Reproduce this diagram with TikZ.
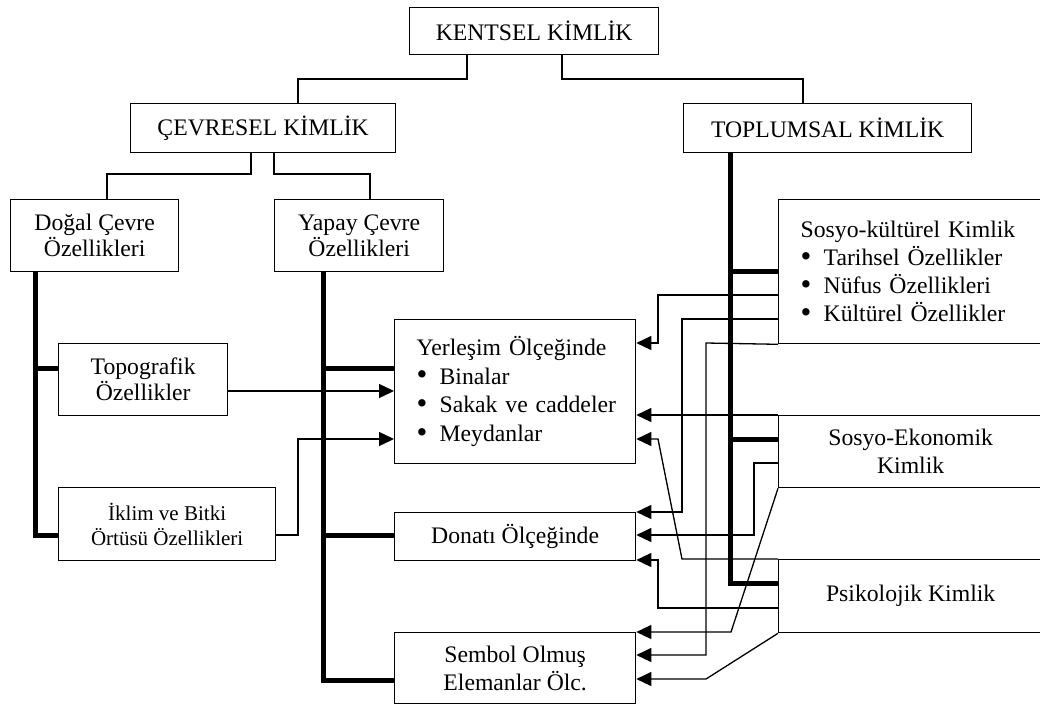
\documentclass[tikz,border=0pt]{standalone}
\usepackage{fontspec}
\setmainfont{Liberation Serif}
\usetikzlibrary{arrows.meta}
\newcommand\lin{\hspace*{22pt}}
\newcommand\blt{\makebox[23pt][l]{\raisebox{-0.5pt}{\scalebox{1.3}{\textbullet}}}}
\begin{document}
\begin{tikzpicture}[x=1pt,y=-1pt,
  box/.style={draw, line width=1.3pt, inner sep=0pt, align=center, anchor=north west,
    font=\fontsize{23.7pt}{28pt}\selectfont},
  conn/.style={line width=1.3pt},
  trunk/.style={line width=5pt},
  arr/.style={line width=1.3pt, -{Triangle[length=15pt,width=14pt]}}]
\useasboundingbox (0,0) rectangle (1040,706);
\clip (0,0) rectangle (1040,706);

% nodes
\node[box, minimum width=249pt, minimum height=47pt] (k) at (409,7) {KENTSEL KİMLİK};
\node[box, minimum width=265pt, minimum height=49pt] (c) at (130,103) {ÇEVRESEL KİMLİK};
\node[box, minimum width=288pt, minimum height=49pt] (t) at (683,103) {TOPLUMSAL KİMLİK};
\node[box, minimum width=168pt, minimum height=72pt, font=\fontsize{23.7pt}{26pt}\selectfont] (d) at (10,199) {Doğal Çevre\\Özellikleri};
\node[box, minimum width=169pt, minimum height=72pt, font=\fontsize{23.7pt}{26pt}\selectfont] (y) at (274,199) {Yapay Çevre\\Özellikleri};
\node[box, minimum width=169pt, minimum height=72pt, font=\fontsize{23.7pt}{26pt}\selectfont] (tp) at (58,343) {Topografik\\Özellikler};
\node[box, minimum width=217pt, minimum height=73pt, font=\fontsize{21pt}{25pt}\selectfont] (ik) at (58,487) {İklim ve Bitki\\Örtüsü Özellikleri};
\node[box, minimum width=241pt, minimum height=144pt, text width=241pt, align=left, font=\fontsize{23.7pt}{28.6pt}\selectfont] (yr) at (394,319)
  {\lin Yerleşim Ölçeğinde\\ \lin\blt Binalar\\ \lin\blt Sakak ve caddeler\\ \lin\blt Meydanlar};
\node[box, minimum width=241pt, minimum height=48pt] (dn) at (394,512) {Donatı Ölçeğinde};
\node[box, minimum width=241pt, minimum height=71pt] (sb) at (394,632) {Sembol Olmuş\\Elemanlar Ölc.};
\node[box, minimum width=264pt, minimum height=144pt, text width=264pt, align=left] (sk) at (778,199)
  {\lin Sosyo-kültürel Kimlik\\ \lin\blt Tarihsel Özellikler\\ \lin\blt Nüfus Özellikleri\\ \lin\blt Kültürel Özellikler};
\node[box, minimum width=264pt, minimum height=72pt] (se) at (778,415) {Sosyo-Ekonomik\\Kimlik};
\node[box, minimum width=264pt, minimum height=73pt] (ps) at (778,559) {Psikolojik Kimlik};

% tree connectors
\draw[conn] (k.south -| 467,0) -- (467,79) -| (c.north -| 298,0);
\draw[conn] (k.south -| 562,0) -- (562,79) -| (t.north -| 803,0);
\draw[conn] (c.south -| 251,0) -- (251,174) -| (d.north -| 107,0);
\draw[conn] (c.south -| 274,0) -- (274,174) -| (y.north -| 370,0);

% thick trunks
\draw[trunk] (d.south -| 35,0) |- (ik.west |- 0,535);
\draw[trunk] (35,368) -- (tp.west |- 0,368);
\draw[trunk] (y.south -| 323,0) |- (sb.west |- 0,680);
\draw[trunk] (323,368) -- (yr.west |- 0,368);
\draw[trunk] (323,535) -- (dn.west |- 0,535);
\draw[trunk] (t.south -| 730,0) |- (ps.west |- 0,583);
\draw[trunk] (730,271) -- (sk.west |- 0,271);
\draw[trunk] (730,439) -- (se.west |- 0,439);

% arrows
\draw[arr] (tp.east |- 0,391) -- (yr.west |- 0,391);
\draw[arr] (ik.east |- 0,535) -- (298,535) |- (yr.west |- 0,439);
\draw[arr] (sk.west |- 0,295) -- (658,295) |- (yr.east |- 0,343);
\draw[arr] (sk.west |- 0,319) -- (682,319) |- (dn.east |- 0,512);
\draw[arr] (sk.south west) -- (706,343) |- (sb.east |- 0,655);
\draw[arr] (se.north west) -- (yr.east |- 0,415);
\draw[arr] (se.west |- 0,463) -- (754,463) |- (dn.east |- 0,535);
\draw[arr] (se.south west) -- (731,632) -- (sb.east |- 0,632);
\draw[arr] (ps.north west) -- (682,559) -- (658,439) -- (yr.east |- 0,439);
\draw[arr] (ps.west |- 0,608) -- (658,608) |- (dn.east |- 0,560);
\draw[arr] (ps.south west) -- (706,679) -- (sb.east |- 0,679);
\end{tikzpicture}
\end{document}
